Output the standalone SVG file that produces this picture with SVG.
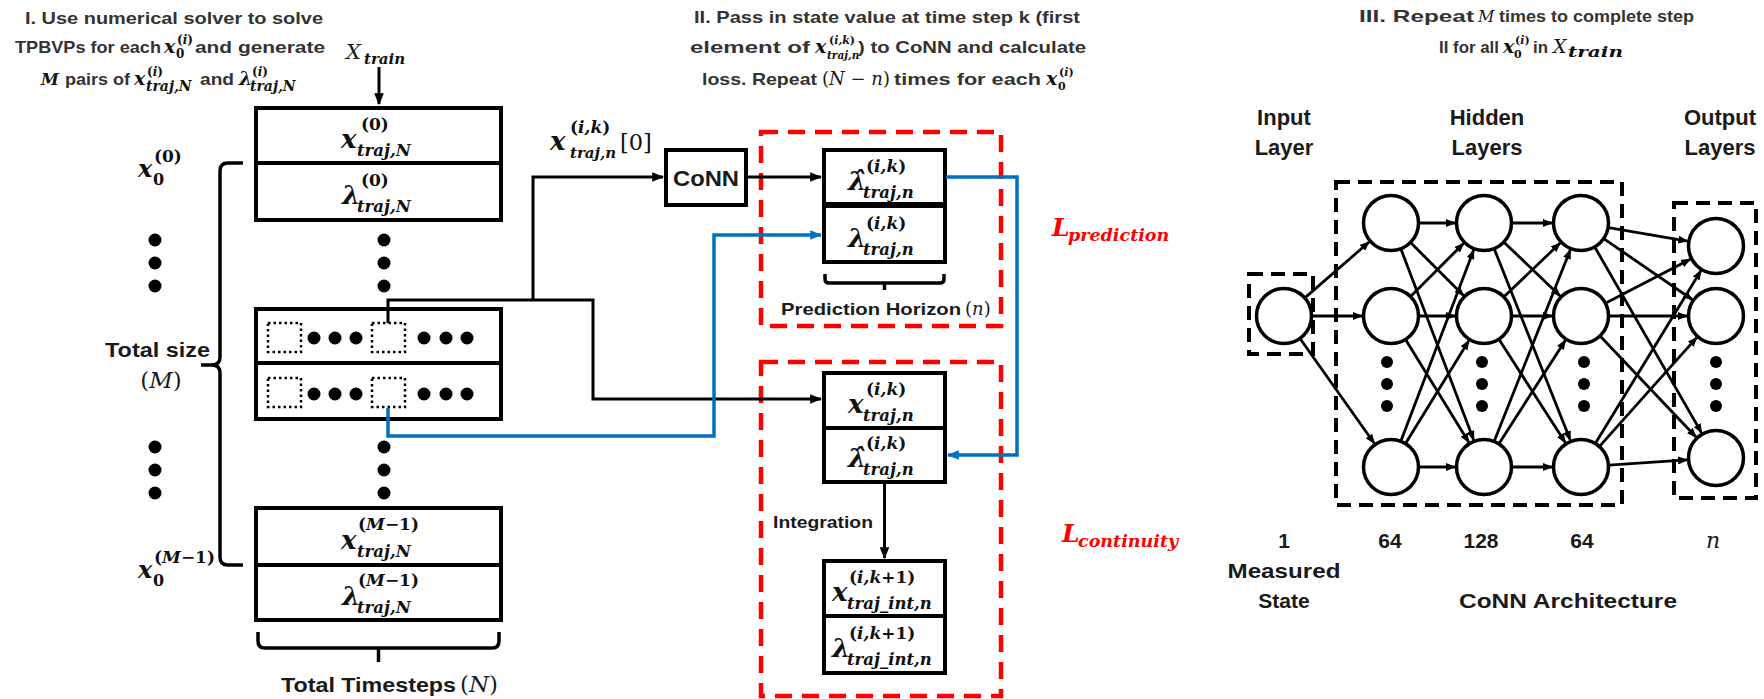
<svg xmlns="http://www.w3.org/2000/svg" width="1764" height="699" viewBox="0 0 1764 699">
  <defs>
    <style>
      .ttl { font-family: "Liberation Sans", Arial, sans-serif; font-weight: bold; font-size: 17px; fill: #333; }
      .lbl { font-family: "Liberation Sans", Arial, sans-serif; font-weight: bold; fill: #1a1a1a; }
      .m { font-family: "DejaVu Serif", "Liberation Serif", serif; font-weight: bold; font-style: italic; fill: #111; }
      .mr { font-family: "DejaVu Serif", "Liberation Serif", serif; font-style: italic; fill: #1a1a1a; }
      .up { font-style: normal; }
      .big { font-size: 26px; }
      .sup { font-size: 17px; }
      .sub { font-size: 16.5px; }
      .tm { font-size: 19px; }
      .ts { font-size: 12px; }
      .box { fill: #fff; stroke: #000; stroke-width: 4; }
      .wire { fill: none; stroke: #000; stroke-width: 3; }
      .blue { fill: none; stroke: #0070c0; stroke-width: 3.5; }
      .red { fill: none; stroke: #ff0000; stroke-width: 4.5; stroke-dasharray: 17 10; }
      .dotsq { fill: none; stroke: #000; stroke-width: 2.5; stroke-dasharray: 2.5 3; }
      .dot { fill: #000; }
      .brace { fill: none; stroke: #000; stroke-width: 3.5; }
      .neuron { fill: #fff; stroke: #000; stroke-width: 3.5; }
      .syn { stroke: #000; stroke-width: 2.8; marker-end: url(#ahs); }
      .grp { fill: none; stroke: #000; stroke-width: 4; stroke-dasharray: 14 8; }
      .loss { font-family: "DejaVu Serif", "Liberation Serif", serif; font-weight: bold; font-style: italic; fill: #ff0000; }
    </style>
    <marker id="ah" viewBox="0 0 10 8" refX="9" refY="4" markerWidth="12" markerHeight="10" markerUnits="userSpaceOnUse" orient="auto">
      <path d="M0,0 L10,4 L0,8 z" fill="#000"/>
    </marker>
    <marker id="ahb" viewBox="0 0 10 8" refX="9" refY="4" markerWidth="12" markerHeight="10" markerUnits="userSpaceOnUse" orient="auto">
      <path d="M0,0 L10,4 L0,8 z" fill="#0070c0"/>
    </marker>
    <marker id="ahs" viewBox="0 0 10 8" refX="9" refY="4" markerWidth="10" markerHeight="8" markerUnits="userSpaceOnUse" orient="auto">
      <path d="M0,0 L10,4 L0,8 z" fill="#000"/>
    </marker>
  </defs>

  <rect width="1764" height="699" fill="#fff"/>

  <!-- Step I: dataset of trajectories -->
  <g id="title-1">
    <text class="ttl" x="25" y="24" textLength="298" lengthAdjust="spacingAndGlyphs">I. Use numerical solver to solve</text>
    <text class="ttl" x="15" y="53" textLength="146" lengthAdjust="spacingAndGlyphs">TPBVPs for each</text>
    <text class="m"><tspan class="tm" x="164" y="53">x</tspan><tspan class="ts" x="177" y="44"><tspan class="up">(</tspan>i<tspan class="up">)</tspan></tspan><tspan class="ts up" x="176" y="58">0</tspan></text>
    <text class="ttl" x="195" y="53" textLength="130" lengthAdjust="spacingAndGlyphs">and generate</text>
    <text class="m" x="41" y="85" font-size="16">M</text>
    <text class="ttl" x="65" y="85" textLength="65" lengthAdjust="spacingAndGlyphs">pairs of</text>
    <text class="m"><tspan class="tm" x="134" y="85">x</tspan><tspan class="ts" x="147" y="76"><tspan class="up">(</tspan>i<tspan class="up">)</tspan></tspan><tspan font-size="14" x="146" y="91">traj,N</tspan></text>
    <text class="ttl" x="200" y="85" textLength="34" lengthAdjust="spacingAndGlyphs">and</text>
    <text class="m"><tspan class="tm" x="239" y="85">λ</tspan><tspan class="ts" x="252" y="76"><tspan class="up">(</tspan>i<tspan class="up">)</tspan></tspan><tspan font-size="14" x="250" y="91">traj,N</tspan></text>
  </g>

  <g id="x-train">
    <text class="mr" x="346" y="59" font-size="21">X</text>
    <text class="m" x="364" y="64" font-size="15">train</text>
  </g>

  <g id="traj-first">
    <rect class="box" x="256" y="108" width="245" height="112"/>
    <line x1="256" y1="163" x2="501" y2="163" stroke="#000" stroke-width="4"/>
    <text class="m"><tspan class="big" x="341" y="147.5">x</tspan><tspan class="sup up" x="361" y="129.5">(0)</tspan><tspan class="sub" x="357" y="155.5">traj,N</tspan></text>
    <text class="m"><tspan class="big" x="342" y="203.5">λ</tspan><tspan class="sup up" x="361" y="185.5">(0)</tspan><tspan class="sub" x="357" y="211.5">traj,N</tspan></text>
  </g>

  <g id="traj-k">
    <rect class="box" x="256" y="309" width="245" height="110"/>
    <line x1="256" y1="363" x2="501" y2="363" stroke="#000" stroke-width="4"/>
    <rect class="dotsq" x="268" y="323" width="33" height="29"/>
    <rect class="dotsq" x="372" y="323" width="33" height="29"/>
    <rect class="dotsq" x="268" y="378" width="33" height="29"/>
    <rect class="dotsq" x="372" y="378" width="33" height="29"/>
    <circle class="dot" cx="314" cy="338" r="6.5"/>
    <circle class="dot" cx="335" cy="338" r="6.5"/>
    <circle class="dot" cx="356" cy="338" r="6.5"/>
    <circle class="dot" cx="424" cy="338" r="6.5"/>
    <circle class="dot" cx="446" cy="338" r="6.5"/>
    <circle class="dot" cx="467" cy="338" r="6.5"/>
    <circle class="dot" cx="314" cy="394" r="6.5"/>
    <circle class="dot" cx="335" cy="394" r="6.5"/>
    <circle class="dot" cx="356" cy="394" r="6.5"/>
    <circle class="dot" cx="424" cy="394" r="6.5"/>
    <circle class="dot" cx="446" cy="394" r="6.5"/>
    <circle class="dot" cx="467" cy="394" r="6.5"/>
  </g>

  <g id="traj-last">
    <rect class="box" x="256" y="508" width="245" height="112"/>
    <line x1="256" y1="565" x2="501" y2="565" stroke="#000" stroke-width="4"/>
    <text class="m"><tspan class="big" x="341" y="549">x</tspan><tspan class="sup" x="358" y="530"><tspan class="up">(</tspan>M<tspan class="up">−1)</tspan></tspan><tspan class="sub" x="357" y="557">traj,N</tspan></text>
    <text class="m"><tspan class="big" x="342" y="605">λ</tspan><tspan class="sup" x="358" y="586"><tspan class="up">(</tspan>M<tspan class="up">−1)</tspan></tspan><tspan class="sub" x="357" y="613">traj,N</tspan></text>
  </g>

  <g id="ellipsis-left">
    <circle class="dot" cx="155" cy="240" r="6.5"/>
    <circle class="dot" cx="155" cy="263" r="6.5"/>
    <circle class="dot" cx="155" cy="286" r="6.5"/>
    <circle class="dot" cx="155" cy="447" r="6.5"/>
    <circle class="dot" cx="155" cy="470" r="6.5"/>
    <circle class="dot" cx="155" cy="493" r="6.5"/>
    <circle class="dot" cx="384" cy="240" r="6.5"/>
    <circle class="dot" cx="384" cy="263" r="6.5"/>
    <circle class="dot" cx="384" cy="286" r="6.5"/>
    <circle class="dot" cx="384" cy="447" r="6.5"/>
    <circle class="dot" cx="384" cy="470" r="6.5"/>
    <circle class="dot" cx="384" cy="493" r="6.5"/>
  </g>

  <g id="initial-states">
    <text class="m"><tspan font-size="24" x="138" y="177">x</tspan><tspan class="sup up" x="154" y="162">(0)</tspan><tspan class="up" font-size="16" x="153" y="185">0</tspan></text>
    <text class="m"><tspan font-size="24" x="138" y="578">x</tspan><tspan class="sup" x="154" y="563"><tspan class="up">(</tspan>M<tspan class="up">−1)</tspan></tspan><tspan class="up" font-size="16" x="153" y="586">0</tspan></text>
    <path class="brace" d="M243,163 H228 Q220,163 220,171 V357 Q220,365 212,365 H201 M212,365 Q220,365 220,373 V557 Q220,565 228,565 H243"/>
    <text class="lbl" x="105" y="357" font-size="21" textLength="105" lengthAdjust="spacingAndGlyphs">Total size</text>
    <text class="mr" x="161" y="388" font-size="23" text-anchor="middle"><tspan class="up">(</tspan>M<tspan class="up">)</tspan></text>
  </g>

  <g id="timesteps">
    <path class="brace" d="M258,632 V641 Q258,648 265,648 H492 Q499,648 499,641 V632 M378.5,648 V662"/>
    <text class="lbl" x="281" y="692" font-size="21" textLength="175" lengthAdjust="spacingAndGlyphs">Total Timesteps</text>
    <text class="mr" x="460" y="692" font-size="23"><tspan class="up">(</tspan>N<tspan class="up">)</tspan></text>
  </g>

  <!-- Step II: CoNN training loop -->
  <g id="title-2">
    <text class="ttl" x="694" y="23" textLength="386" lengthAdjust="spacingAndGlyphs">II. Pass in state value at time step k (first</text>
    <text class="ttl" x="690" y="53" textLength="120" lengthAdjust="spacingAndGlyphs">element of</text>
    <text class="m"><tspan class="tm" x="815" y="53">x</tspan><tspan font-size="11" x="829" y="44"><tspan class="up">(</tspan>i,k<tspan class="up">)</tspan></tspan><tspan font-size="10.5" x="827" y="59">traj,n</tspan></text>
    <text class="ttl" x="858" y="53" textLength="228" lengthAdjust="spacingAndGlyphs">) to CoNN and calculate</text>
    <text class="ttl" x="702" y="85" textLength="115" lengthAdjust="spacingAndGlyphs">loss. Repeat</text>
    <text class="mr" x="822" y="85" font-size="18"><tspan class="up">(</tspan>N <tspan class="up">−</tspan> n<tspan class="up">)</tspan></text>
    <text class="ttl" x="894" y="85" textLength="147" lengthAdjust="spacingAndGlyphs">times for each</text>
    <text class="m"><tspan class="tm" x="1046" y="85">x</tspan><tspan font-size="11" x="1059" y="76"><tspan class="up">(</tspan>i<tspan class="up">)</tspan></tspan><tspan class="up" font-size="11" x="1058" y="90">0</tspan></text>
  </g>

  <g id="input-label">
    <text class="m"><tspan class="big" x="550" y="150">x</tspan><tspan class="sup" x="570" y="133"><tspan class="up">(</tspan>i,k<tspan class="up">)</tspan></tspan><tspan font-size="15" x="570" y="158">traj,n</tspan></text>
    <text x="620" y="150" font-family="DejaVu Serif, serif" font-size="22.5" fill="#111">[0]</text>
  </g>

  <g id="conn">
    <rect class="box" x="666" y="150" width="80" height="55"/>
    <text class="lbl" x="706" y="186" font-size="22" text-anchor="middle" textLength="66" lengthAdjust="spacingAndGlyphs">CoNN</text>
  </g>

  <g id="prediction-loss">
    <rect class="red" x="761" y="132" width="240" height="194"/>
    <rect class="box" x="824" y="150" width="121" height="54"/>
    <rect class="box" x="824" y="206" width="121" height="56"/>
    <text class="m"><tspan class="big" x="848" y="189.5">λ̂</tspan><tspan class="sup" x="866" y="171.5"><tspan class="up">(</tspan>i,k<tspan class="up">)</tspan></tspan><tspan class="sub" x="863" y="197.5">traj,n</tspan></text>
    <text class="m"><tspan class="big" x="848" y="246.5">λ</tspan><tspan class="sup" x="866" y="228.5"><tspan class="up">(</tspan>i,k<tspan class="up">)</tspan></tspan><tspan class="sub" x="863" y="254.5">traj,n</tspan></text>
    <path class="brace" d="M825,274 V279 Q825,283 829,283 H940 Q944,283 944,279 V274 M884.5,283 V290"/>
    <text class="lbl" x="781" y="315" font-size="16.5" textLength="180" lengthAdjust="spacingAndGlyphs">Prediction Horizon</text>
    <text class="mr" x="965" y="315" font-size="18"><tspan class="up">(</tspan>n<tspan class="up">)</tspan></text>
    <text class="loss"><tspan font-size="25" x="1052" y="236">L</tspan><tspan font-size="17.5" x="1068" y="241">prediction</tspan></text>
  </g>

  <g id="continuity-loss">
    <rect class="red" x="761" y="362" width="240" height="334"/>
    <rect class="box" x="824" y="373" width="121" height="55"/>
    <rect class="box" x="824" y="428" width="121" height="54"/>
    <text class="m"><tspan class="big" x="848" y="412.5">x</tspan><tspan class="sup" x="866" y="394.5"><tspan class="up">(</tspan>i,k<tspan class="up">)</tspan></tspan><tspan class="sub" x="863" y="420.5">traj,n</tspan></text>
    <text class="m"><tspan class="big" x="848" y="467">λ̂</tspan><tspan class="sup" x="866" y="449"><tspan class="up">(</tspan>i,k<tspan class="up">)</tspan></tspan><tspan class="sub" x="863" y="475">traj,n</tspan></text>
    <text class="lbl" x="773" y="528" font-size="16.5" textLength="100" lengthAdjust="spacingAndGlyphs">Integration</text>
    <rect class="box" x="824" y="561" width="121" height="55"/>
    <rect class="box" x="824" y="616" width="121" height="57"/>
    <text class="m"><tspan class="big" x="832" y="600.5">x</tspan><tspan class="sup" x="849" y="582.5"><tspan class="up">(</tspan>i,k<tspan class="up">+1)</tspan></tspan><tspan class="sub" x="847" y="608.5">traj_int,n</tspan></text>
    <text class="m"><tspan class="big" x="832" y="656.5">λ</tspan><tspan class="sup" x="849" y="638.5"><tspan class="up">(</tspan>i,k<tspan class="up">+1)</tspan></tspan><tspan class="sub" x="847" y="664.5">traj_int,n</tspan></text>
    <text class="loss"><tspan font-size="25" x="1062" y="542">L</tspan><tspan font-size="17.5" x="1078" y="547">continuity</tspan></text>
  </g>

  <g id="connectors">
    <path class="wire" d="M379,67 V104" marker-end="url(#ah)"/>
    <path class="wire" d="M388,323 V300 H593 V399 H821" marker-end="url(#ah)"/>
    <path class="wire" d="M533,300 V177 H663" marker-end="url(#ah)"/>
    <path class="wire" d="M746,177 H821" marker-end="url(#ah)"/>
    <path class="wire" d="M884.5,484 V558" marker-end="url(#ah)"/>
    <path class="blue" d="M388,408 V436 H714 V235 H821" marker-end="url(#ahb)"/>
    <path class="blue" d="M946,177 H1017 V455 H948" marker-end="url(#ahb)"/>
  </g>

  <!-- Step III: network architecture -->
  <g id="title-3">
    <text class="ttl" x="1359" y="22" textLength="115" lengthAdjust="spacingAndGlyphs">III. Repeat</text>
    <text class="mr" x="1478" y="22" font-size="16">M</text>
    <text class="ttl" x="1499" y="22" textLength="195" lengthAdjust="spacingAndGlyphs">times to complete step</text>
    <text class="ttl" x="1439" y="53" textLength="60" lengthAdjust="spacingAndGlyphs">II for all</text>
    <text class="m"><tspan class="tm" x="1503" y="53">x</tspan><tspan font-size="11" x="1515" y="44"><tspan class="up">(</tspan>i<tspan class="up">)</tspan></tspan><tspan class="up" font-size="11" x="1514" y="58">0</tspan></text>
    <text class="ttl" x="1533" y="53" textLength="15" lengthAdjust="spacingAndGlyphs">in</text>
    <text class="mr" x="1553" y="53" font-size="19">X</text>
    <text class="m" x="1568" y="57" font-size="14" textLength="55" lengthAdjust="spacingAndGlyphs">train</text>
  </g>

  <g id="layer-captions" class="lbl" font-size="22" text-anchor="middle">
    <text x="1284" y="125">Input</text>
    <text x="1284" y="155">Layer</text>
    <text x="1487" y="125">Hidden</text>
    <text x="1487" y="155">Layers</text>
    <text x="1720" y="125">Output</text>
    <text x="1720" y="155">Layers</text>
    <text x="1284" y="548" font-size="21">1</text>
    <text x="1390" y="548" font-size="21">64</text>
    <text x="1481" y="548" font-size="21">128</text>
    <text x="1582" y="548" font-size="21">64</text>
    <text x="1284" y="578" font-size="21" textLength="113" lengthAdjust="spacingAndGlyphs">Measured</text>
    <text x="1284" y="608" font-size="21">State</text>
    <text x="1568" y="608" font-size="21" textLength="218" lengthAdjust="spacingAndGlyphs">CoNN Architecture</text>
  </g>
  <text class="mr" x="1713" y="548" font-size="22" text-anchor="middle">n</text>

  <g id="layer-groups">
    <rect class="grp" x="1249" y="274" width="64" height="80"/>
    <rect class="grp" x="1336" y="182" width="286" height="323"/>
    <rect class="grp" x="1674" y="203" width="82" height="295"/>
  </g>

  <g id="synapses">
    <line class="syn" x1="1305.1" y1="297.6" x2="1369.1" y2="242.0"/>
    <line class="syn" x1="1312" y1="316" x2="1362" y2="316"/>
    <line class="syn" x1="1300.2" y1="338.8" x2="1374.2" y2="443.3"/>

    <line class="syn" x1="1419" y1="223" x2="1455" y2="223"/>
    <line class="syn" x1="1410.8" y1="242.8" x2="1463.5" y2="295.5"/>
    <line class="syn" x1="1401.0" y1="249.2" x2="1473.7" y2="439.9"/>
    <line class="syn" x1="1410.8" y1="296.2" x2="1463.5" y2="243.5"/>
    <line class="syn" x1="1419" y1="316" x2="1455" y2="316"/>
    <line class="syn" x1="1405.7" y1="339.8" x2="1468.8" y2="442.3"/>
    <line class="syn" x1="1401.0" y1="440.8" x2="1473.7" y2="250.1"/>
    <line class="syn" x1="1405.7" y1="443.2" x2="1468.8" y2="340.7"/>
    <line class="syn" x1="1419" y1="467" x2="1455" y2="467"/>

    <line class="syn" x1="1512" y1="223" x2="1552" y2="223"/>
    <line class="syn" x1="1504.2" y1="242.4" x2="1560.1" y2="295.9"/>
    <line class="syn" x1="1494.3" y1="249.0" x2="1570.3" y2="440.1"/>
    <line class="syn" x1="1504.2" y1="296.6" x2="1560.1" y2="243.1"/>
    <line class="syn" x1="1512" y1="316" x2="1552" y2="316"/>
    <line class="syn" x1="1499.1" y1="339.6" x2="1565.3" y2="442.6"/>
    <line class="syn" x1="1494.3" y1="441.0" x2="1570.3" y2="249.9"/>
    <line class="syn" x1="1499.1" y1="443.4" x2="1565.3" y2="340.4"/>
    <line class="syn" x1="1512" y1="467" x2="1552" y2="467"/>

    <line class="syn" x1="1608.6" y1="227.7" x2="1687.4" y2="241.1"/>
    <line class="syn" x1="1604.1" y1="238.9" x2="1692.1" y2="299.5"/>
    <line class="syn" x1="1594.9" y1="247.3" x2="1701.6" y2="432.9"/>
    <line class="syn" x1="1605.9" y1="303.1" x2="1690.3" y2="259.3"/>
    <line class="syn" x1="1609" y1="316" x2="1687" y2="316"/>
    <line class="syn" x1="1600.3" y1="336.3" x2="1696.0" y2="437.0"/>
    <line class="syn" x1="1595.6" y1="443.1" x2="1700.9" y2="270.7"/>
    <line class="syn" x1="1599.7" y1="446.1" x2="1696.7" y2="337.6"/>
    <line class="syn" x1="1608.9" y1="465.1" x2="1687.1" y2="459.9"/>
  </g>

  <g id="neurons">
    <circle class="neuron" cx="1284" cy="316" r="27.5"/>
    <circle class="neuron" cx="1391" cy="223" r="27.5"/>
    <circle class="neuron" cx="1391" cy="316" r="27.5"/>
    <circle class="neuron" cx="1391" cy="467" r="27.5"/>
    <circle class="neuron" cx="1484" cy="223" r="27.5"/>
    <circle class="neuron" cx="1484" cy="316" r="27.5"/>
    <circle class="neuron" cx="1484" cy="467" r="27.5"/>
    <circle class="neuron" cx="1581" cy="223" r="27.5"/>
    <circle class="neuron" cx="1581" cy="316" r="27.5"/>
    <circle class="neuron" cx="1581" cy="467" r="27.5"/>
    <circle class="neuron" cx="1716" cy="246" r="27.5"/>
    <circle class="neuron" cx="1716" cy="316" r="27.5"/>
    <circle class="neuron" cx="1716" cy="458" r="27.5"/>
    <circle class="dot" cx="1387" cy="362" r="6"/>
    <circle class="dot" cx="1387" cy="384" r="6"/>
    <circle class="dot" cx="1387" cy="406" r="6"/>
    <circle class="dot" cx="1482" cy="362" r="6"/>
    <circle class="dot" cx="1482" cy="384" r="6"/>
    <circle class="dot" cx="1482" cy="406" r="6"/>
    <circle class="dot" cx="1584" cy="362" r="6"/>
    <circle class="dot" cx="1584" cy="384" r="6"/>
    <circle class="dot" cx="1584" cy="406" r="6"/>
    <circle class="dot" cx="1716" cy="362" r="6"/>
    <circle class="dot" cx="1716" cy="384" r="6"/>
    <circle class="dot" cx="1716" cy="406" r="6"/>
  </g>
</svg>
